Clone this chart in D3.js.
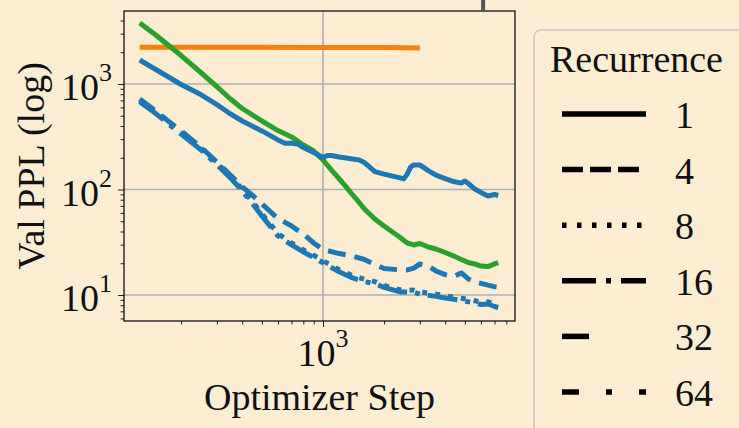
<!DOCTYPE html>
<html>
<head>
<meta charset="utf-8">
<script src="https://cdn.jsdelivr.net/npm/d3@7"></script>
<style>
  html, body { margin: 0; padding: 0; background: #fdeed3; }
  svg { display: block; font-family: "Liberation Serif", "Times New Roman", serif; }
</style>
</head>
<body>
<svg id="chart" width="739" height="428"></svg>
<script>
// ---- data: validation perplexity vs optimizer step (log-log) ----
const orangeSteps = [125, 200, 300, 500, 800, 1000, 1500, 2000, 2500, 3000];
const orangePPL   = [2230, 2228, 2226, 2225, 2222, 2220, 2218, 2215, 2205, 2200];

const greenSteps = [125,150,175,200,250,300,350,400,500,600,700,800,900,1000,1100,1200,1300,1400,1500,1600,1800,2000,2200,2400,2600,2800,3000,3300,3600,4000,4400,4800,5200,5600,6000,6500,7000,7300];
const greenPPL   = [3785,2911,2292,1862,1285,946,721,586,446,362,315,264,232,191,153,127,106,88.8,76.2,65.4,52.5,45.1,39.6,35.1,31.1,29.8,30.8,28.5,27.3,25.3,23.4,21.7,20.3,19.7,18.8,18.6,19.7,20.3];

const blueR1Steps = [125,150,175,200,250,300,350,400,500,600,650,700,750,800,900,1000,1050,1100,1200,1300,1400,1500,1600,1700,1800,2000,2200,2400,2500,2600,2700,2800,3000,3300,3600,4000,4400,4800,5000,5200,5600,6000,6500,7000,7300];
const blueR1PPL   = [1688,1372,1152,989,795,639,520,446,359,295,274,274,270,250,224,201,210,210,203,199,195,191,180,163,148,140,134,129,126,140,163,171,171,151,137,127,119,115,120.5,114,101,93.8,86.8,89.7,87.8];

const blueR4Steps = [125,150,175,200,250,300,350,400,450,500,600,700,800,900,1000,1200,1400,1600,1800,2000,2400,2600,2800,3000,3300,3600,4000,4400,4800,5200,5600,6000,6500,7000,7300];
const blueR4PPL   = [721,555,437,359,253,182,137,106,87.8,72.9,53.1,45.1,37.8,31.1,27.0,24.7,23.4,21.7,19.5,17.8,17.3,17.3,18.0,19.7,18.8,16.9,15.6,15.0,16.2,14.2,13.3,12.9,12.4,12.0,11.9];

const blueLowSteps = [125,150,175,200,250,300,350,400,450,500,600,700,800,900,1000,1200,1400,1600,1800,2000,2400,2800,3000,3600,4000,4800,5600,6000,6500,7000,7300];
const blueR8PPL    = [705,540,425,346,247,178,133,101,76.5,58.8,38.2,31.2,26.8,23.8,21.1,17.4,15.2,14.1,13.4,12.3,11.2,11.1,10.7,10.2,9.85,9.32,8.82,8.55,8.62,8.18,8.0];
const blueR16PPL   = [680,524,412,335,238,172,129,97.0,73.0,56.2,36.3,29.8,25.6,22.7,20.2,16.6,14.5,13.4,12.8,11.8,10.7,10.6,10.2,9.7,9.38,8.88,8.40,8.12,8.22,7.78,7.62];

const legendLabels = ["1", "4", "8", "16", "32", "64"];
const yMajorTicks = [10, 100, 1000];
const xMajorTicks = [1000];

// ---- layout ----
const W = 739, H = 428;
const plot = { left: 124, right: 515, top: 11, bottom: 321 };
const bg = "#fdeed3";
const C = { blue: "#1f77b4", orange: "#ff7f0e", green: "#2ca02c" };
const LW = 5;

const svg = d3.select("#chart");
svg.append("rect").attr("width", W).attr("height", H).attr("fill", bg);

const x = d3.scaleLog().domain([104.6, 8830]).range([plot.left, plot.right]);
const y = d3.scaleLog().domain([5.67, 4920]).range([plot.bottom, plot.top]);

// gridlines at major ticks
const grid = svg.append("g").attr("stroke", "#b0b0b0").attr("stroke-width", 1.6);
grid.selectAll("line.gy").data(yMajorTicks).join("line")
  .attr("x1", plot.left).attr("x2", plot.right)
  .attr("y1", d => y(d)).attr("y2", d => y(d));
grid.selectAll("line.gx").data(xMajorTicks).join("line")
  .attr("y1", plot.top).attr("y2", plot.bottom)
  .attr("x1", d => x(d)).attr("x2", d => x(d));

// series
const series = [
  { steps: orangeSteps,  vals: orangePPL,   color: C.orange, dash: null },
  { steps: greenSteps,   vals: greenPPL,    color: C.green,  dash: null },
  { steps: blueR1Steps,  vals: blueR1PPL,   color: C.blue,   dash: null },
  { steps: blueR4Steps,  vals: blueR4PPL,   color: C.blue,   dash: "18,9" },
  { steps: blueLowSteps, vals: blueR8PPL,   color: C.blue,   dash: "5,8" },
  { steps: blueLowSteps, vals: blueR16PPL,  color: C.blue,   dash: "30,8,5,8" }
];
const line = d3.line().x(d => x(d[0])).y(d => y(d[1]));
const lines = svg.append("g").attr("fill", "none");
series.forEach(s => {
  lines.append("path")
    .attr("d", line(d3.zip(s.steps, s.vals)))
    .attr("stroke", s.color)
    .attr("stroke-width", LW)
    .attr("stroke-linejoin", "round")
    .attr("stroke-dasharray", s.dash);
});

// axes
const yAxis = d3.axisLeft(y).tickValues(yMajorTicks).tickSize(6).tickFormat("");
const yMinor = d3.axisLeft(y)
  .tickValues([6,7,8,9,20,30,40,50,60,70,80,90,200,300,400,500,600,700,800,900,2000,3000,4000])
  .tickSize(3.5).tickFormat("");
const xAxis = d3.axisBottom(x).tickValues(xMajorTicks).tickSize(6).tickFormat("");
const xMinor = d3.axisBottom(x)
  .tickValues([200,300,400,500,600,700,800,900,2000,3000,4000,5000,6000,7000,8000])
  .tickSize(3.5).tickFormat("");

function styleAxis(g) {
  g.select(".domain").remove();
  g.selectAll(".tick line").attr("stroke", "#222").attr("stroke-width", 1);
}
svg.append("g").attr("transform", `translate(${plot.left},0)`).call(yAxis).call(styleAxis);
svg.append("g").attr("transform", `translate(${plot.left},0)`).call(yMinor).call(styleAxis);
svg.append("g").attr("transform", `translate(0,${plot.bottom})`).call(xAxis).call(styleAxis);
svg.append("g").attr("transform", `translate(0,${plot.bottom})`).call(xMinor).call(styleAxis);

// frame
svg.append("rect")
  .attr("x", plot.left).attr("y", plot.top)
  .attr("width", plot.right - plot.left).attr("height", plot.bottom - plot.top)
  .attr("fill", "none").attr("stroke", "#111").attr("stroke-width", 1.3);

// tick labels 10^n
function powLabel(sel, d) {
  const e = Math.round(Math.log10(d));
  sel.append("tspan").text("10");
  sel.append("tspan").attr("font-size", 26).attr("dy", -19).text(e);
}
svg.append("g").selectAll("text").data(yMajorTicks).join("text")
  .attr("x", 112).attr("y", d => y(d) + 16)
  .attr("text-anchor", "end").attr("font-size", 38).attr("fill", "#111")
  .each(function (d) { powLabel(d3.select(this), d); });
svg.append("g").selectAll("text").data(xMajorTicks).join("text")
  .attr("x", d => x(d)).attr("y", 366)
  .attr("text-anchor", "middle").attr("font-size", 38).attr("fill", "#111")
  .each(function (d) { powLabel(d3.select(this), d); });

// axis titles
svg.append("text")
  .attr("x", (plot.left + plot.right) / 2).attr("y", 410)
  .attr("text-anchor", "middle").attr("font-size", 38).attr("fill", "#111")
  .text("Optimizer Step");
svg.append("text")
  .attr("transform", `translate(44,${(plot.top + plot.bottom) / 2}) rotate(-90)`)
  .attr("text-anchor", "middle").attr("font-size", 38).attr("fill", "#111")
  .text("Val PPL (log)");

// small marker above the frame
svg.append("line")
  .attr("x1", x(6150)).attr("x2", x(6150))
  .attr("y1", 0).attr("y2", plot.top)
  .attr("stroke", "#555").attr("stroke-width", 4);

// legend
const lg = svg.append("g");
lg.append("rect")
  .attr("x", 534).attr("y", 30).attr("width", 300).attr("height", 500).attr("rx", 7)
  .attr("fill", bg).attr("stroke", "#c8c8c8").attr("stroke-width", 1.5);
lg.append("text").attr("x", 550).attr("y", 72)
  .attr("font-size", 38).attr("fill", "#111").text("Recurrence");
const legendDash = [null, "21,7", "4.5,10.5", "34,10,5,10", "27,200", "17,27,6,27"];
legendLabels.forEach((lab, i) => {
  const cy = 114 + i * 55.6;
  lg.append("line")
    .attr("x1", 562).attr("x2", 646).attr("y1", cy).attr("y2", cy)
    .attr("stroke", "#000").attr("stroke-width", 5.5)
    .attr("stroke-dasharray", legendDash[i]);
  lg.append("text").attr("x", 675).attr("y", cy + 14)
    .attr("font-size", 38).attr("fill", "#111").text(lab);
});
</script>
</body>
</html>
